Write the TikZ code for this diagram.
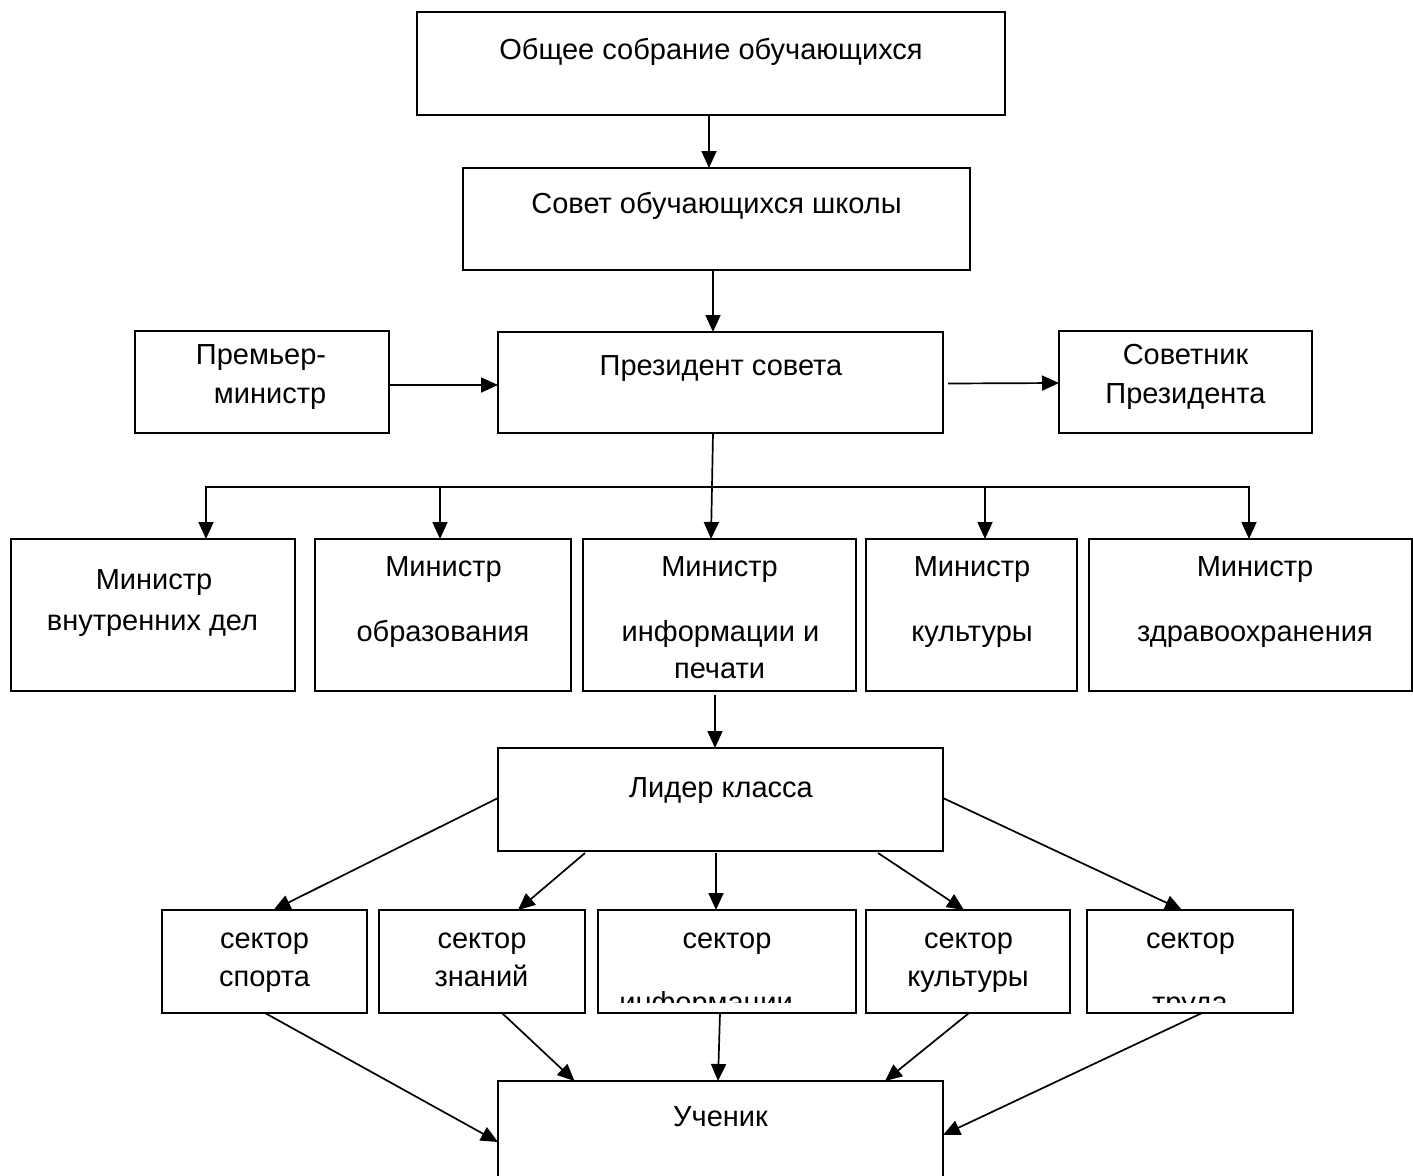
\documentclass[tikz,border=0pt]{standalone}
\usepackage{fontspec}
\setmainfont{Liberation Sans}
\usetikzlibrary{arrows.meta}
\begin{document}
\begin{tikzpicture}[x=1pt,y=-1pt,
  box/.style={draw, line width=1.8pt, inner sep=0pt, outer sep=0pt},
  txt/.style={font=\fontsize{29pt}{35pt}\selectfont, inner sep=0pt, anchor=base},
  ln/.style={line width=1.7pt},
  arr/.style={line width=1.7pt, -{Triangle[length=17pt,width=15pt]}}]
\useasboundingbox (0,0) rectangle (1413,1175);
\clip (0,0) rectangle (1413,1175);
\fill[white] (0,0) rectangle (1413,1175);

% boxes
\node[box, minimum width=588pt, minimum height=103pt] (gen) at (711,63.5) {};
\node[box, minimum width=507pt, minimum height=102pt] (council) at (716.5,219) {};
\node[box, minimum width=445pt, minimum height=101pt] (pres) at (720.5,382.5) {};
\node[box, minimum width=254pt, minimum height=102pt] (prem) at (262,382) {};
\node[box, minimum width=253pt, minimum height=102pt] (adv) at (1185.5,382) {};
\node[box, minimum width=284pt, minimum height=152pt] (m1) at (153,615) {};
\node[box, minimum width=256pt, minimum height=152pt] (m2) at (443,615) {};
\node[box, minimum width=273pt, minimum height=152pt] (m3) at (719.5,615) {};
\node[box, minimum width=211pt, minimum height=152pt] (m4) at (971.5,615) {};
\node[box, minimum width=323pt, minimum height=152pt] (m5) at (1250.5,615) {};
\node[box, minimum width=445pt, minimum height=103pt] (lead) at (720.5,799.5) {};
\node[box, minimum width=205pt, minimum height=103pt] (s1) at (264.5,961.5) {};
\node[box, minimum width=206pt, minimum height=103pt] (s2) at (482,961.5) {};
\node[box, minimum width=258pt, minimum height=103pt] (s3) at (727,961.5) {};
\node[box, minimum width=204pt, minimum height=103pt] (s4) at (968,961.5) {};
\node[box, minimum width=206pt, minimum height=103pt] (s5) at (1190,961.5) {};
\node[box, minimum width=445pt, minimum height=119pt] (pupil) at (720.5,1140.5) {};

% texts
\node[txt] (tgen) at (711,59) {Общее собрание обучающихся};
\node[txt] (tcouncil) at (716.5,213) {Совет обучающихся школы};
\node[txt] (tpres) at (721,375) {Президент совета};
\node[txt] (tprem1) at (261,364) {Премьер-};
\node[txt] (tprem2) at (270,403) {министр};
\node[txt] (tadv1) at (1185.5,364) {Советник};
\node[txt] (tadv2) at (1185.5,403) {Президента};
\node[txt] (tm1a) at (154,589) {Министр};
\node[txt] (tm1b) at (152.5,630) {внутренних дел};
\node[txt] (tm2a) at (443.5,576) {Министр};
\node[txt] (tm2b) at (443,641) {образования};
\node[txt] (tm3a) at (719.5,576) {Министр};
\node[txt] (tm3b) at (720.5,641) {информации и};
\node[txt] (tm3c) at (719.5,678) {печати};
\node[txt] (tm4a) at (972,576) {Министр};
\node[txt] (tm4b) at (972,641) {культуры};
\node[txt] (tm5a) at (1255,576) {Министр};
\node[txt] (tm5b) at (1255,641) {здравоохранения};
\node[txt] (tlead) at (721,797) {Лидер класса};
\node[txt] (ts1a) at (264.5,948) {сектор};
\node[txt] (ts1b) at (264.5,986) {спорта};
\node[txt] (ts2a) at (482,948) {сектор};
\node[txt] (ts2b) at (481.5,986) {знаний};
\node[txt] (ts3a) at (727,948) {сектор};
\node[txt] (ts4a) at (968.5,948) {сектор};
\node[txt] (ts4b) at (968,986) {культуры};
\node[txt] (ts5a) at (1190.5,948) {сектор};
\node[txt] (tpupil) at (720.5,1126) {Ученик};
\begin{scope}
  \clip (598,910) rectangle (856,1002.5);
  \node[txt] (ts3b) at (706,1012) {информации};
\end{scope}
\begin{scope}
  \clip (1087,910) rectangle (1293,1002.5);
  \node[txt] (ts5b) at (1190,1012) {труда};
\end{scope}

% connectors
\draw[arr] ([xshift=-2pt]gen.south) -- ([xshift=-2pt]gen.south |- council.north);
\draw[arr] ([xshift=-3.5pt]council.south) -- ([xshift=-3.5pt]council.south |- pres.north);
\draw[arr] ([yshift=-3pt]prem.east) -- ([yshift=-3pt]prem.east -| pres.west);
\draw[arr] ([xshift=5pt,yshift=-1pt]pres.east) -- ([yshift=-1pt]adv.west);
\draw[arr] ([xshift=-7.5pt]pres.south) -- ([xshift=-8.5pt]m3.north);

\coordinate (tap1) at (206,487);
\coordinate (tap2) at (440,487);
\coordinate (tap4) at (985,487);
\coordinate (tap5) at (1249,487);
\draw[ln] ([xshift=-1pt]tap1) -- ([xshift=1pt]tap5);
\draw[arr] (tap1) -- (tap1 |- m1.north);
\draw[arr] (tap2) -- (tap2 |- m2.north);
\draw[arr] (tap4) -- (tap4 |- m4.north);
\draw[arr] (tap5) -- (tap5 |- m5.north);

\draw[arr] ([xshift=-4.5pt,yshift=-4pt]m3.south) -- ([xshift=-4.5pt]m3.south |- lead.north);

\draw[arr] ([yshift=1.5pt]lead.west) -- ([xshift=9pt]s1.north);
\draw[arr] ([xshift=-135.5pt,yshift=-2pt]lead.south) -- ([xshift=36pt]s2.north);
\draw[arr] ([xshift=-4.5pt,yshift=-2pt]lead.south) -- ([xshift=-11pt]s3.north);
\draw[arr] ([xshift=157.5pt,yshift=-2pt]lead.south) -- ([xshift=-4pt]s4.north);
\draw[arr] ([yshift=1.5pt]lead.east) -- ([xshift=-8pt]s5.north);

\draw[arr] ([xshift=0.5pt]s1.south) -- ([yshift=-1.5pt]pupil.west);
\draw[arr] ([xshift=20pt]s2.south) -- ([xshift=-146pt]pupil.north);
\draw[arr] ([xshift=-7pt]s3.south) -- ([xshift=-2.5pt]pupil.north);
\draw[arr] ([xshift=1pt]s4.south) -- ([xshift=164.5pt]pupil.north);
\draw[arr] ([xshift=12pt]s5.south) -- ([yshift=5.5pt]pupil.east);
\end{tikzpicture}
\end{document}
